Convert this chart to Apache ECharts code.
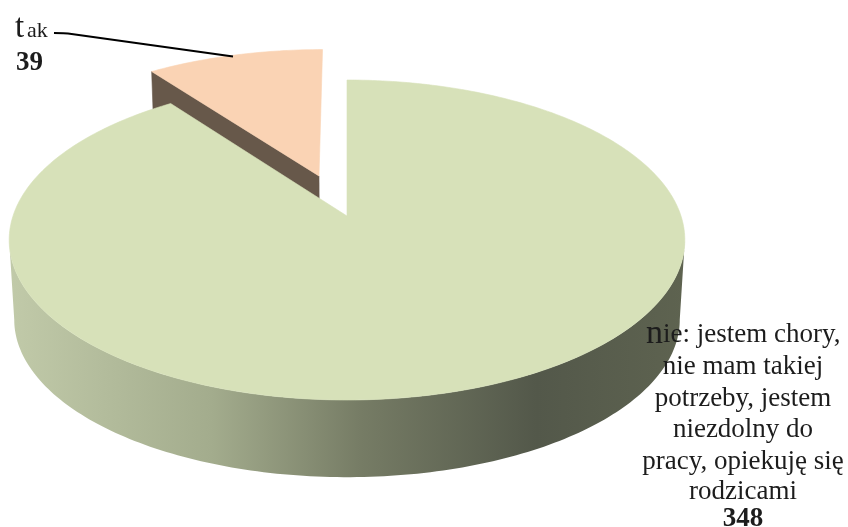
<!DOCTYPE html>
<html>
<head>
<meta charset="utf-8">
<style>html,body{margin:0;padding:0;background:#fff}#c{width:848px;height:527px}</style>
<script src="https://cdn.jsdelivr.net/npm/echarts@6/dist/echarts.min.js"></script>
</head>
<body>
<div id="c"></div>
<script>
var categories = ['tak', 'nie: jestem chory, nie mam takiej potrzeby, jestem niezdolny do pracy, opiekuję się rodzicami'];
var values = [39, 348];
var takLabel = ['t', 'ak'];
var nieHead = ['n', 'ie: jestem chory,'];
var nieLines = ['nie mam takiej', 'potrzeby, jestem', 'niezdolny do', 'pracy, opiekuję się', 'rodzicami'];

var total = values[0] + values[1];
var K = -0.15, EXPLODE = 0.28, CX = 347;
var TOP = {b: 334, a: 156.4, y0: 216};
var LOW = {b: 329, a: 154, y0: 296};
var FF = '"Liberation Serif","Times New Roman",serif', INK = '#1c1c1c';

function proj(u, v, plane) {
  var w = 1 + K * v;
  return [CX + plane.b * u / w, plane.y0 + plane.a * v / w];
}
function rim(deg, ou, ov, plane) {
  var t = deg * Math.PI / 180;
  return proj(ou + Math.sin(t), ov - Math.cos(t), plane);
}
function arc(a0, a1, ou, ov, plane) {
  var pts = [], n = Math.ceil(Math.abs(a1 - a0));
  for (var i = 0; i <= n; i++) pts.push(rim(a0 + (a1 - a0) * i / n, ou, ov, plane));
  return pts;
}
function poly(points, fill, stroke) {
  return {type: 'polygon', silent: true, shape: {points: points},
    style: {fill: fill, stroke: stroke || fill, lineWidth: 0.6}};
}
// one run of text, placed by its baseline
function txt(s, x, base, size, align, weight) {
  return {type: 'text', silent: true, x: x, y: base - size * 0.3, style: {
    text: s, align: align, verticalAlign: 'middle',
    font: (weight || 'normal') + ' ' + size + 'px ' + FF, fill: INK}};
}

function renderItem(params, api) {
  var sweep = api.value(0) / total * 360;
  if (params.dataIndex === 0) {
    var mid = -sweep / 2 * Math.PI / 180;
    var ou = EXPLODE * Math.sin(mid), ov = -EXPLODE * Math.cos(mid);
    var a = proj(ou, ov, TOP), aL = proj(ou, ov, LOW);
    var l = rim(-sweep, ou, ov, TOP), lL = rim(-sweep, ou, ov, LOW);
    return {type: 'group', children: [
      poly([a, l, lL, aL], '#67584a'),
      poly([a].concat(arc(-sweep, 0, ou, ov, TOP)), '#fad3b4'),
      {type: 'polyline', silent: true,
        shape: {points: [[54, 33], [68, 33.5], [233, 56.5]], smooth: 0.15},
        style: {stroke: '#000', lineWidth: 2, fill: 'none'}},
      txt(takLabel[0], 15, 38.5, 33, 'left'),
      txt(takLabel[1], 27, 38, 22, 'left'),
      txt(String(api.value(0)), 16, 71, 27, 'left', 'bold')
    ]};
  }
  var upper = arc(98.6, 261.4, 0, 0, TOP), lower = arc(98.6, 261.4, 0, 0, LOW).reverse();
  var grad = new echarts.graphic.LinearGradient(0, 0, 1, 0, [
    {offset: 0, color: '#c1caa9'},
    {offset: 0.3, color: '#a3ac8d'},
    {offset: 0.52, color: '#767c65'},
    {offset: 0.78, color: '#53584a'},
    {offset: 1, color: '#5e6350'}
  ]);
  var apex = proj(0, 0, TOP);
  var kids = [
    poly(upper.concat(lower), grad, 'transparent'),
    poly([apex].concat(arc(0, sweep, 0, 0, TOP)), '#d7e1b9'),
    txt(nieHead[0], 646, 344, 34, 'left'),
    txt(nieHead[1], 663, 343, 27, 'left')
  ];
  var bases = [375, 407, 438, 470, 500];
  nieLines.forEach(function (s, i) { kids.push(txt(s, 743, bases[i], 27, 'center')); });
  kids.push(txt(String(api.value(0)), 743, 527, 27, 'center', 'bold'));
  return {type: 'group', children: kids};
}

var chart = echarts.init(document.getElementById('c'), null, {renderer: 'canvas'});
chart.setOption({
  animation: false,
  backgroundColor: '#fff',
  series: [{
    type: 'custom',
    coordinateSystem: 'none',
    renderItem: renderItem,
    silent: true,
    data: values.map(function (v, i) { return {name: categories[i], value: v}; })
  }]
});
</script>
</body>
</html>
